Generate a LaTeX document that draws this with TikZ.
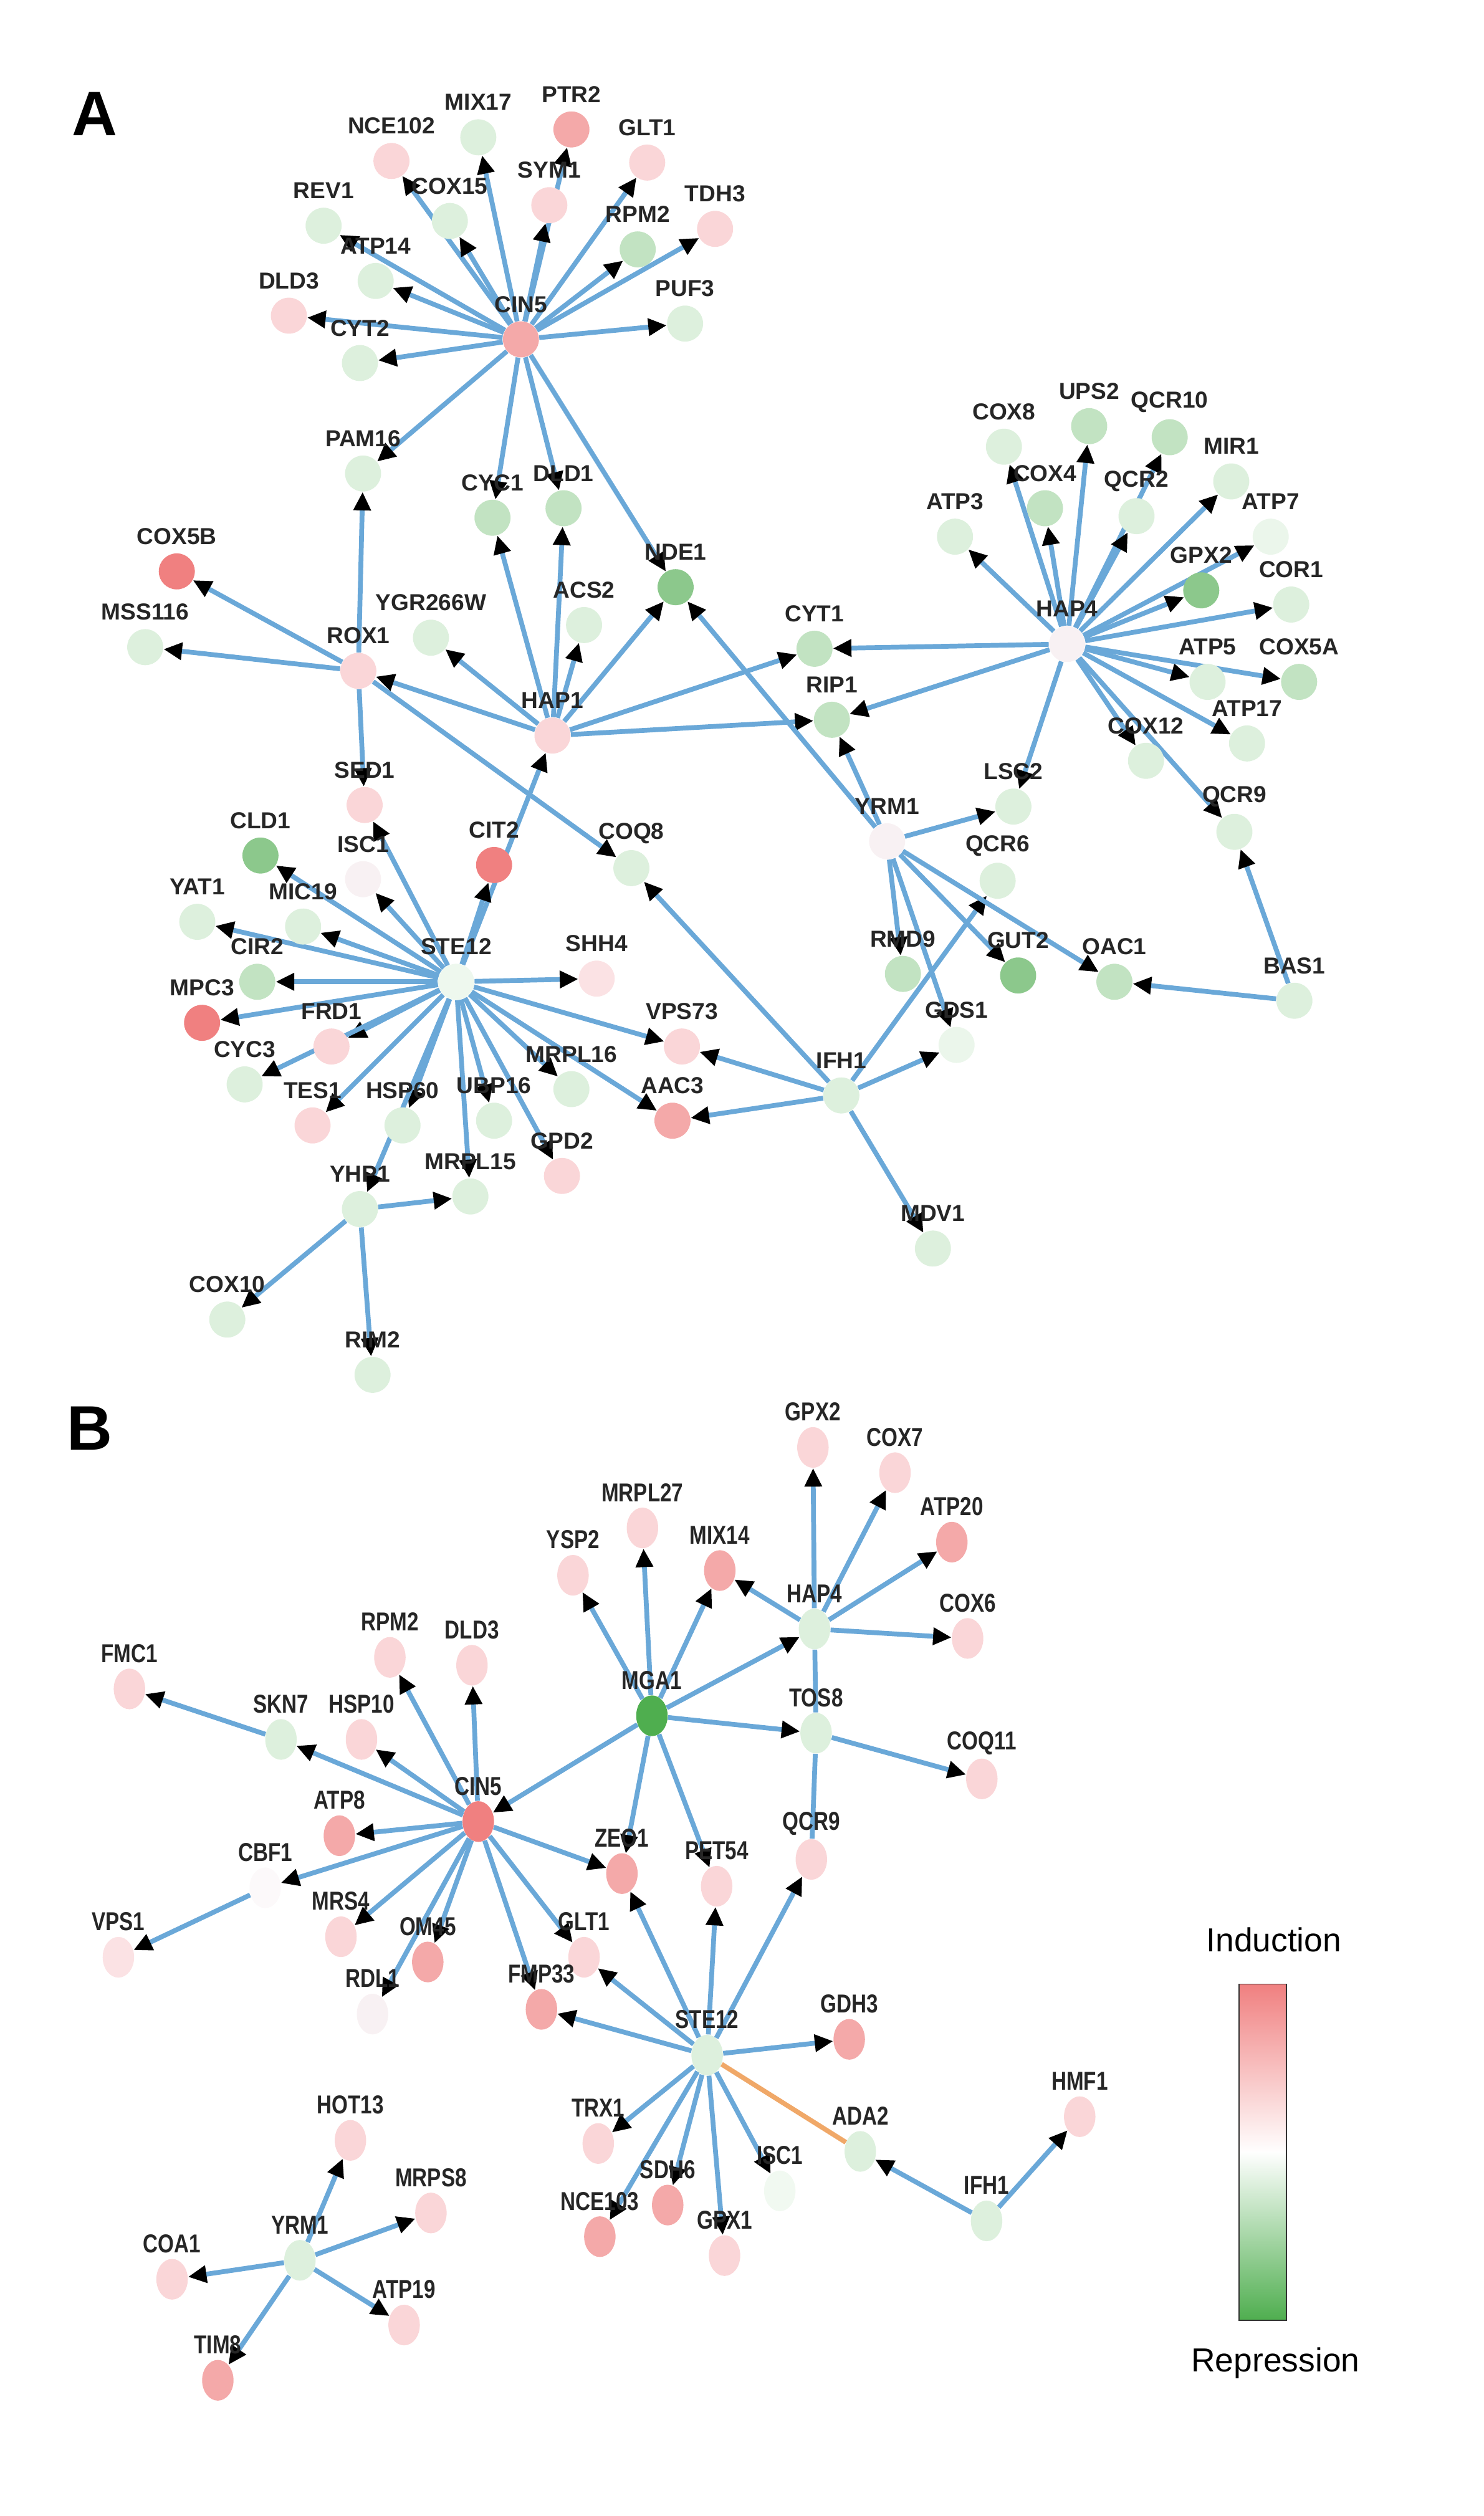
\documentclass[tikz,border=0pt]{standalone}
\usepackage{fontspec}
\setmainfont{Liberation Sans}
\usepackage{tikz}
\usetikzlibrary{arrows.meta}
\usetikzlibrary{shapes.geometric}
\usetikzlibrary{backgrounds}
\definecolor{rA}{HTML}{F08080}
\definecolor{rB}{HTML}{F4A9A9}
\definecolor{rC}{HTML}{FAD6D8}
\definecolor{wh}{HTML}{F8F1F3}
\definecolor{gA}{HTML}{DDF0DD}
\definecolor{gB}{HTML}{C2E3C2}
\definecolor{gC}{HTML}{8CC88C}
\definecolor{gD}{HTML}{4FAE4F}
\definecolor{edge}{HTML}{6AA8D8}
\definecolor{orng}{HTML}{F0A868}
\tikzset{
  gn/.style={circle, draw=none, minimum size=19.5pt, inner sep=0pt},
  gnb/.style={ellipse, draw=none, minimum width=17pt, minimum height=22pt, inner sep=0pt},
  lbl/.style={font=\bfseries\fontsize{12.5}{12.5}\selectfont, text=black!85, inner sep=1pt},
  lblb/.style={font=\bfseries\fontsize{14}{14}\selectfont, text=black!85, inner sep=1pt},
  reg/.style={draw=edge, line width=2.6pt, -{Triangle[length=10pt, width=9pt, fill=black, color=black]}},
  link/.style={draw=edge, line width=2.6pt},
  panel/.style={font=\bfseries\fontsize{34}{34}\selectfont}
}
% gene in panel A / panel B
\newcommand\geneA[5][]{\node[gn, fill=#5] (a#2) at (#3,#4) {};
  \node[lbl, #1] at ([yshift=9pt]a#2.north) {#2};}
\newcommand\geneB[5][]{\node[gnb, fill=#5] (b#2) at (#3,#4) {};
  \node[lblb, #1] at ([yshift=8pt]b#2.north) {\scalebox{0.8}[1]{#2}};}
\begin{document}
\begin{tikzpicture}[x=0.03cm, y=-0.03cm]
  \useasboundingbox (0,0) rectangle (940,1594);
  \node[panel] (pA) at (60,72) {A};
  \node[panel] (pB) at (57,905) {B};

  % ---- panel A ----
  \geneA{CIN5}{330}{215}{rB}
  \geneA{PTR2}{362}{82}{rB}
  \geneA{MIX17}{303}{87}{gA}
  \geneA{GLT1}{410}{103}{rC}
  \geneA{NCE102}{248}{102}{rC}
  \geneA{SYM1}{348}{130}{rC}
  \geneA{TDH3}{453}{145}{rC}
  \geneA{REV1}{205}{143}{gA}
  \geneA{COX15}{285}{140}{gA}
  \geneA{RPM2}{404}{158}{gB}
  \geneA{ATP14}{238}{178}{gA}
  \geneA{PUF3}{434}{205}{gA}
  \geneA{DLD3}{183}{200}{rC}
  \geneA{CYT2}{228}{230}{gA}
  \geneA{PAM16}{230}{300}{gA}
  \geneA{CYC1}{312}{328}{gB}
  \geneA{DLD1}{357}{322}{gB}
  \geneA{NDE1}{428}{372}{gC}
  \geneA{ACS2}{370}{396}{gA}
  \geneA{YGR266W}{273}{404}{gA}
  \geneA{COX5B}{112}{362}{rA}
  \geneA{MSS116}{92}{410}{gA}
  \geneA{ROX1}{227}{425}{rC}
  \geneA{HAP1}{350}{466}{rC}
  \geneA{CYT1}{516}{411}{gB}
  \geneA{RIP1}{527}{456}{gB}
  \geneA{HAP4}{676}{408}{wh}
  \geneA{COX8}{636}{283}{gA}
  \geneA{UPS2}{690}{270}{gB}
  \geneA{QCR10}{741}{277}{gB}
  \geneA{COX4}{662}{322}{gB}
  \geneA{QCR2}{720}{327}{gA}
  \geneA{MIR1}{780}{305}{gA}
  \geneA{ATP3}{605}{340}{gA}
  \geneA{ATP7}{805}{340}{gA!60}
  \geneA{GPX2}{761}{374}{gC}
  \geneA{COR1}{818}{383}{gA}
  \geneA{ATP5}{765}{432}{gA}
  \geneA{COX5A}{823}{432}{gB}
  \geneA{ATP17}{790}{471}{gA}
  \geneA{COX12}{726}{482}{gA}
  \geneA{QCR9}{782}{527}{gA}
  \geneA{LSC2}{642}{511}{gA}
  \geneA{YRM1}{562}{533}{wh}
  \geneA{QCR6}{632}{558}{gA}
  \geneA{RMD9}{572}{617}{gB}
  \geneA{GUT2}{645}{618}{gC}
  \geneA{OAC1}{706}{622}{gB}
  \geneA{BAS1}{820}{634}{gA}
  \geneA{GDS1}{606}{662}{gA!60}
  \geneA{IFH1}{533}{694}{gA}
  \geneA{MDV1}{591}{791}{gA}
  \geneA{VPS73}{432}{663}{rC}
  \geneA{AAC3}{426}{710}{rB}
  \geneA{SED1}{231}{510}{rC}
  \geneA{CIT2}{313}{548}{rA}
  \geneA{COQ8}{400}{550}{gA}
  \geneA{CLD1}{165}{542}{gC}
  \geneA{ISC1}{230}{557}{wh}
  \geneA{YAT1}{125}{584}{gA}
  \geneA{MIC19}{192}{587}{gA}
  \geneA{STE12}{289}{622}{gA!50}
  \geneA{SHH4}{378}{620}{rC!70}
  \geneA{CIR2}{163}{622}{gB}
  \geneA{MPC3}{128}{648}{rA}
  \geneA{FRD1}{210}{663}{rC}
  \geneA{CYC3}{155}{687}{gA}
  \geneA{TES1}{198}{713}{rC}
  \geneA{HSP60}{255}{713}{gA}
  \geneA{UBP16}{313}{710}{gA}
  \geneA{MRPL16}{362}{690}{gA}
  \geneA{GPD2}{356}{745}{rC}
  \geneA{MRPL15}{298}{758}{gA}
  \geneA{YHP1}{228}{766}{gA}
  \geneA{COX10}{144}{836}{gA}
  \geneA{RIM2}{236}{871}{gA}

  \begin{scope}[on background layer]
  \foreach \t in {NCE102,MIX17,PTR2,SYM1,GLT1,TDH3,REV1,COX15,RPM2,ATP14,
                  PUF3,DLD3,CYT2,PAM16,CYC1,DLD1,NDE1}
    \draw[reg] (aCIN5) -- (a\t);
  \foreach \t in {PAM16,COX5B,MSS116,SED1,COQ8}
    \draw[reg] (aROX1) -- (a\t);
  \foreach \t in {ROX1,YGR266W,CYC1,DLD1,ACS2,NDE1,CYT1,RIP1}
    \draw[reg] (aHAP1) -- (a\t);
  \foreach \t in {HAP1,CIT2,SED1,CLD1,ISC1,YAT1,MIC19,CIR2,MPC3,FRD1,CYC3,TES1,
                  HSP60,UBP16,MRPL16,GPD2,MRPL15,SHH4,VPS73,AAC3,YHP1}
    \draw[reg] (aSTE12) -- (a\t);
  \foreach \t in {MRPL15,COX10,RIM2}
    \draw[reg] (aYHP1) -- (a\t);
  \foreach \t in {COQ8,VPS73,AAC3,GDS1,QCR6,MDV1}
    \draw[reg] (aIFH1) -- (a\t);
  \foreach \t in {NDE1,RIP1,LSC2,RMD9,GDS1,GUT2,OAC1}
    \draw[reg] (aYRM1) -- (a\t);
  \foreach \t in {CYT1,RIP1,LSC2,COX8,UPS2,QCR10,COX4,QCR2,MIR1,ATP3,ATP7,
                  GPX2,COR1,ATP5,COX5A,ATP17,COX12,QCR9}
    \draw[reg] (aHAP4) -- (a\t);
  \foreach \t in {OAC1,QCR9}
    \draw[reg] (aBAS1) -- (a\t);
  \end{scope}

  % ---- panel B ----
  \geneB{FMC1}{82}{1070}{rC}
  \geneB{SKN7}{178}{1102}{gA}
  \geneB{HSP10}{229}{1102}{rC}
  \geneB{RPM2}{247}{1050}{rC}
  \geneB{DLD3}{299}{1055}{rC}
  \geneB{CIN5}{303}{1154}{rA}
  \geneB{ATP8}{215}{1163}{rB}
  \geneB{CBF1}{168}{1196}{wh!40}
  \geneB{VPS1}{75}{1240}{rC!70}
  \geneB{MRS4}{216}{1227}{rC}
  \geneB{OM45}{271}{1243}{rB}
  \geneB{RDL1}{236}{1276}{wh}
  \geneB{GLT1}{370}{1240}{rC}
  \geneB{FMP33}{343}{1273}{rB}
  \geneB{ZEO1}{394}{1187}{rB}
  \geneB{PET54}{454}{1195}{rC}
  \geneB{QCR9}{514}{1178}{rC}
  \geneB{MGA1}{413}{1087}{gD}
  \geneB{YSP2}{363}{998}{rC}
  \geneB{MRPL27}{407}{968}{rC}
  \geneB{MIX14}{456}{995}{rB}
  \geneB{HAP4}{516}{1032}{gA}
  \geneB{GPX2}{515}{917}{rC}
  \geneB{COX7}{567}{933}{rC}
  \geneB{ATP20}{603}{977}{rB}
  \geneB{COX6}{613}{1038}{rC}
  \geneB{TOS8}{517}{1098}{gA}
  \geneB{COQ11}{622}{1127}{rC}
  \geneB{STE12}{448}{1302}{gA}
  \geneB{GDH3}{538}{1292}{rB}
  \geneB{TRX1}{379}{1358}{rC}
  \geneB{SDH6}{423}{1397}{rB}
  \geneB{NCE103}{380}{1417}{rB}
  \geneB{GPX1}{459}{1429}{rC}
  \geneB{ISC1}{494}{1388}{gA!40}
  \geneB{ADA2}{545}{1363}{gA}
  \geneB{IFH1}{625}{1407}{gA}
  \geneB{HMF1}{684}{1341}{rC}
  \geneB{HOT13}{222}{1356}{rC}
  \geneB{MRPS8}{273}{1402}{rC}
  \geneB{YRM1}{190}{1432}{gA}
  \geneB{COA1}{109}{1444}{rC}
  \geneB{ATP19}{256}{1473}{rC}
  \geneB{TIM8}{138}{1508}{rB}

  \begin{scope}[on background layer]
  \foreach \t in {CIN5,YSP2,MRPL27,MIX14,HAP4,TOS8,ZEO1,PET54}
    \draw[reg] (bMGA1) -- (b\t);
  \foreach \t in {GPX2,COX7,ATP20,COX6,MIX14}
    \draw[reg] (bHAP4) -- (b\t);
  \draw[link] (bHAP4) -- (bTOS8);
  \draw[link] (bTOS8) -- (bQCR9);
  \draw[reg] (bTOS8) -- (bCOQ11);
  \foreach \t in {SKN7,HSP10,RPM2,DLD3,ATP8,CBF1,MRS4,OM45,RDL1,ZEO1,GLT1,FMP33}
    \draw[reg] (bCIN5) -- (b\t);
  \draw[reg] (bSKN7) -- (bFMC1);
  \draw[reg] (bCBF1) -- (bVPS1);
  \foreach \t in {FMP33,GLT1,ZEO1,PET54,QCR9,GDH3,TRX1,SDH6,NCE103,GPX1,ISC1}
    \draw[reg] (bSTE12) -- (b\t);
  \draw[draw=orng, line width=2.6pt] (bSTE12) -- (bADA2);
  \foreach \t in {ADA2,HMF1}
    \draw[reg] (bIFH1) -- (b\t);
  \foreach \t in {HOT13,MRPS8,COA1,ATP19,TIM8}
    \draw[reg] (bYRM1) -- (b\t);
  \end{scope}

  % colour scale
  \shade[top color=rA, bottom color=white] (785,1257) rectangle (815,1364);
  \shade[top color=white, bottom color=gD] (785,1363) rectangle (815,1470);
  \draw[black!80, line width=0.6pt] (785,1257) rectangle (815,1470);
  \node[font=\fontsize{18}{18}\selectfont] (ind) at (807,1229) {Induction};
  \node[font=\fontsize{18}{18}\selectfont] (rep) at (808,1497) {Repression};
\end{tikzpicture}
\end{document}
